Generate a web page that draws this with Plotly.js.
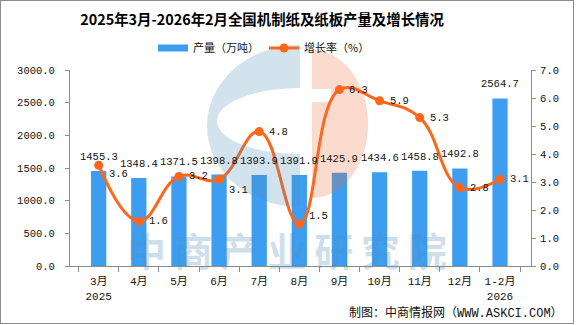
<!DOCTYPE html>
<html><head><meta charset="utf-8">
<script src="https://cdn.plot.ly/plotly-3.0.1.min.js"></script>
<style>
html,body{margin:0;padding:0;background:#fff;}
#chart{position:absolute;left:0;top:0;width:576px;height:325px;}
#frame{position:absolute;left:0;top:0;width:572px;height:322px;border:1px solid #8c8c8c;pointer-events:none;}
</style></head><body>
<div id="chart"></div><div id="frame"></div>
<script>
// ---- data ----
const months = ['3月','4月','5月','6月','7月','8月','9月','10月','11月','12月','1-2月'];
const tickLabels = ['3月<br>2025','4月','5月','6月','7月','8月','9月','10月','11月','12月','1-2月<br>2026'];
const output = [1455.3,1348.4,1371.5,1398.8,1393.9,1391.9,1425.9,1434.6,1458.8,1492.8,2564.7];
const growth = [3.6,1.6,3.2,3.1,4.8,1.5,6.3,5.9,5.3,2.8,3.1];
const seriesNames = ['产量（万吨）','增长率（%）'];
const titleText = '2025年3月-2026年2月全国机制纸及纸板产量及增长情况';
const sourceText = '制图：中商情报网（WWW.ASKCI.COM）';
const watermarkText = '中\u2009商\u2009产\u2009业\u2009研\u2009究\u2009院';

// ---- style ----
const barColor = '#3d9df1';
const lineColor = '#ff661a';
const monoFont = '"Liberation Mono", "Noto Sans CJK SC", monospace';
const rateLabelShift = [-9,0,0,-11,0,8,0,0,0,0,0];

const M = {l:70, r:45, t:70, b:59};
const W = 576 - M.l - M.r, H = 325 - M.t - M.b;
const px = v => (v - M.l) / W;
const py = v => (325 - M.b - v) / H;

function ellipsePts(cx, cy, rx, ry, a0, a1, n) {
  const pts = [];
  for (let k = 0; k <= n; k++) {
    const a = (a0 + (a1 - a0) * k / n) * Math.PI / 180;
    pts.push([cx + rx * Math.cos(a), cy + ry * Math.sin(a)]);
  }
  return pts;
}
function toPath(pts) {
  return pts.map((p, i) => (i ? 'L' : 'M') + px(p[0]).toFixed(4) + ',' + py(p[1]).toFixed(4)).join(' ') + ' Z';
}
const bluePts = ellipsePts(300,126,93,81,270,90,60).concat(ellipsePts(300,121,83,33,90,270,60));
const orangePts = [[312,89]].concat(ellipsePts(312,124,56,74,-90,90,60)).concat([[312,102],[331,102],[331,89]]);

const traces = [
  {type:'scatter', x:[null], y:[null], mode:'lines', name:seriesNames[0],
   line:{color:barColor, width:7}, hoverinfo:'skip'},
  {type:'bar', x:months, y:output, name:seriesNames[0], marker:{color:barColor},
   showlegend:false, yaxis:'y'},
  {type:'scatter', x:months, y:growth, name:seriesNames[1], yaxis:'y2',
   mode:'lines+markers', line:{color:lineColor, width:3, shape:'spline', smoothing:1.2},
   marker:{color:lineColor, size:9}}
];

const annotations = [];
months.forEach((m, i) => {
  annotations.push({x:m, y:output[i], xref:'x', yref:'y', text:output[i].toFixed(1),
    showarrow:false, yanchor:'bottom', yshift:6, font:{family:monoFont, size:10.5, color:'#111'}});
  annotations.push({x:m, y:growth[i], xref:'x', yref:'y2', text:growth[i].toFixed(1),
    showarrow:false, xanchor:'left', yanchor:'middle', xshift:8, yshift:rateLabelShift[i],
    font:{family:monoFont, size:10.5, color:'#111'}});
});
annotations.push({xref:'paper', yref:'paper', x:px(287), y:py(249), text:watermarkText,
  showarrow:false, xanchor:'center', yanchor:'middle',
  font:{family:'"Noto Sans CJK SC"', size:39, weight:'bold', color:'rgba(79,143,187,0.28)'}});
annotations.push({xref:'paper', yref:'paper', x:px(565), y:py(313), text:sourceText,
  showarrow:false, xanchor:'right', yanchor:'middle',
  font:{family:monoFont, size:12, color:'#111'}});

const layout = {
  width:576, height:325, margin:M,
  paper_bgcolor:'#fff', plot_bgcolor:'#fff',
  bargap:0.62,
  title:{text:titleText, x:262/576, xanchor:'center', xref:'container', y:1-20/325, yanchor:'middle', yref:'container',
    font:{family:'"Noto Sans CJK SC"', size:14.4, weight:'bold', color:'#000'}},
  showlegend:true,
  legend:{orientation:'h', x:px(264), xanchor:'center', y:py(48), yanchor:'middle',
    font:{family:'"Noto Sans CJK SC"', size:11, color:'#111'}, bgcolor:'rgba(0,0,0,0)'},
  xaxis:{type:'category', tickvals:months, ticktext:tickLabels, tickson:'boundaries',
    ticks:'outside', ticklen:5, tickcolor:'#8c8c8c', showline:true, linecolor:'#8c8c8c',
    ticklabelstandoff:5,
    showgrid:false, zeroline:false, tickfont:{family:monoFont, size:11, color:'#111'}},
  yaxis:{range:[0,3000], dtick:500, tickformat:'.1f', ticks:'outside', ticklen:4,
    ticklabelstandoff:8,
    tickcolor:'#8c8c8c', showline:true, linecolor:'#8c8c8c', showgrid:false, zeroline:false,
    tickfont:{family:monoFont, size:10.5, color:'#111'}},
  yaxis2:{range:[0,7], dtick:1, tickformat:'.1f', overlaying:'y', side:'right', ticks:'outside',
    ticklen:4, tickcolor:'#8c8c8c', showline:true, linecolor:'#8c8c8c', showgrid:false,
    ticklabelstandoff:2,
    zeroline:false, tickfont:{family:monoFont, size:10.5, color:'#111'}},
  shapes:[
    {type:'path', xref:'paper', yref:'paper', path:toPath(bluePts), layer:'above',
     fillcolor:'rgba(79,143,187,0.25)', line:{width:0}},
    {type:'path', xref:'paper', yref:'paper', path:toPath(orangePts), layer:'above',
     fillcolor:'rgba(235,110,60,0.25)', line:{width:0}}
  ],
  annotations:annotations
};

Plotly.newPlot('chart', traces, layout, {displayModeBar:false, staticPlot:true});
</script>
</body></html>
